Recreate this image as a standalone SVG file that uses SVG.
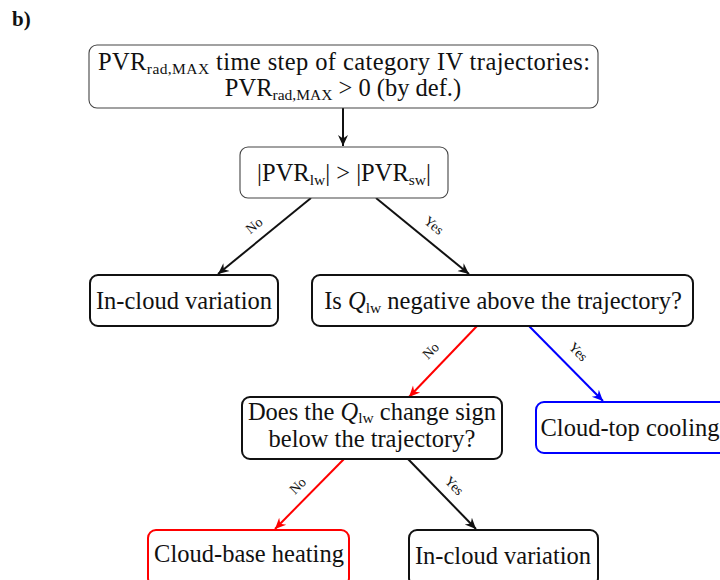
<svg xmlns="http://www.w3.org/2000/svg" width="720" height="580" viewBox="0 0 720 580">
<style>
text{font-family:"Liberation Serif","DejaVu Serif",serif;fill:#111}
.t{font-size:24.5px;text-anchor:middle}
.sub{font-size:15.5px}
.lbl{font-size:14px;text-anchor:middle}
.thin{fill:#fff;stroke:#444;stroke-width:1.1}
.k{fill:#fff;stroke:#111;stroke-width:2}
.r{fill:#fff;stroke:#f00;stroke-width:2}
.b{fill:#fff;stroke:#00f;stroke-width:2}
.ek{stroke:#111;stroke-width:2;fill:none}
.er{stroke:#f00;stroke-width:2;fill:none}
.eb{stroke:#00f;stroke-width:2;fill:none}
</style>
<defs>
<marker id="ak" viewBox="-11 -6 12 12" markerWidth="12" markerHeight="12" refX="0" refY="0" orient="auto" markerUnits="userSpaceOnUse"><path d="M0,0 L-11,-5 L-7.5,0 L-11,5 Z" fill="#111"/></marker>
<marker id="ar" viewBox="-11 -6 12 12" markerWidth="12" markerHeight="12" refX="0" refY="0" orient="auto" markerUnits="userSpaceOnUse"><path d="M0,0 L-11,-5 L-7.5,0 L-11,5 Z" fill="#f00"/></marker>
<marker id="ab" viewBox="-11 -6 12 12" markerWidth="12" markerHeight="12" refX="0" refY="0" orient="auto" markerUnits="userSpaceOnUse"><path d="M0,0 L-11,-5 L-7.5,0 L-11,5 Z" fill="#00f"/></marker>
</defs>
<text x="12" y="26" style="font-size:21px;font-weight:bold">b)</text>
<g id="connectors">
<line class="ek" x1="343" y1="108" x2="343" y2="146" stroke-width="1.5" marker-end="url(#ak)"/>
<line class="ek" x1="311" y1="198" x2="218" y2="274" marker-end="url(#ak)"/>
<line class="ek" x1="376" y1="198" x2="469" y2="274" marker-end="url(#ak)"/>
<line class="er" x1="477" y1="326" x2="409" y2="397" marker-end="url(#ar)"/>
<line class="eb" x1="529" y1="326" x2="603" y2="401" marker-end="url(#ab)"/>
<line class="er" x1="344" y1="459" x2="275" y2="529" marker-end="url(#ar)"/>
<line class="ek" x1="408" y1="459" x2="476" y2="529" marker-end="url(#ak)"/>
<text class="lbl" transform="translate(257,229) rotate(-39)">No</text>
<text class="lbl" transform="translate(431,229) rotate(39)">Yes</text>
<text class="lbl" transform="translate(434,354) rotate(-45)">No</text>
<text class="lbl" transform="translate(575,355) rotate(45)">Yes</text>
<text class="lbl" transform="translate(301,489) rotate(-45)">No</text>
<text class="lbl" transform="translate(451,489) rotate(45)">Yes</text>
</g>
<g id="n1">
<rect class="thin" x="89" y="45" width="509" height="63" rx="8"/>
<text class="t" x="344" y="70" textLength="492" lengthAdjust="spacing">PVR<tspan class="sub" dy="4">rad,MAX</tspan><tspan dy="-4"> time step of category IV trajectories:</tspan></text>
<text class="t" x="343" y="96">PVR<tspan class="sub" dy="4">rad,MAX</tspan><tspan dy="-4"> &gt; 0 (by def.)</tspan></text>
</g>
<g id="n2">
<rect class="thin" x="240" y="147" width="208" height="51" rx="8"/>
<text class="t" x="344" y="181">|PVR<tspan class="sub" dy="4">lw</tspan><tspan dy="-4">| &gt; |PVR</tspan><tspan class="sub" dy="4">sw</tspan><tspan dy="-4">|</tspan></text>
</g>
<g id="n3">
<rect class="k" x="90" y="275" width="188" height="51" rx="8"/>
<text class="t" x="184" y="309">In-cloud variation</text>
</g>
<g id="n4">
<rect class="k" x="312" y="275" width="381" height="51" rx="8"/>
<text class="t" x="503" y="309">Is <tspan font-style="italic">Q</tspan><tspan class="sub" dy="4">lw</tspan><tspan dy="-4"> negative above the trajectory?</tspan></text>
</g>
<g id="n5">
<rect class="k" x="242" y="397" width="260" height="62" rx="8"/>
<text class="t" x="372" y="420">Does the <tspan font-style="italic">Q</tspan><tspan class="sub" dy="3">lw</tspan><tspan dy="-3"> change sign</tspan></text>
<text class="t" x="372" y="447">below the trajectory?</text>
</g>
<g id="n6">
<rect class="b" x="536" y="402" width="196" height="51" rx="8"/>
<text class="t" x="630" y="436">Cloud-top cooling</text>
</g>
<g id="n7">
<rect class="r" x="148" y="530" width="201" height="56" rx="8"/>
<text class="t" x="249" y="562">Cloud-base heating</text>
</g>
<g id="n8">
<rect class="k" x="409" y="530" width="189" height="56" rx="8"/>
<text class="t" x="503" y="564">In-cloud variation</text>
</g>
</svg>
